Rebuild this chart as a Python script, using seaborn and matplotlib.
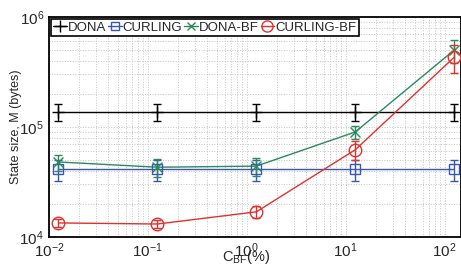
import matplotlib
matplotlib.use("Agg")
import matplotlib.pyplot as plt
import seaborn as sns
import pandas as pd
from matplotlib.ticker import LogLocator, NullFormatter

C_BF = [0.0125, 0.125, 1.25, 12.5, 125]
SERIES = ["DONA", "CURLING", "DONA-BF", "CURLING-BF"]
DONA = [1.37e5, 1.37e5, 1.37e5, 1.37e5, 1.37e5]
DONA_ERR = [0.24e5, 0.24e5, 0.24e5, 0.24e5, 0.24e5]
CURLING = [4.1e4, 4.1e4, 4.1e4, 4.1e4, 4.1e4]
CURLING_ERR = [0.9e4, 0.9e4, 0.9e4, 0.9e4, 0.9e4]
DONA_BF = [4.8e4, 4.3e4, 4.4e4, 9.0e4, 5.0e5]
DONA_BF_ERR = [0.8e4, 0.8e4, 0.8e4, 1.2e4, 1.2e5]
CURLING_BF = [1.34e4, 1.31e4, 1.69e4, 6.2e4, 4.3e5]
CURLING_BF_ERR = [0.1e4, 0.1e4, 0.2e4, 1.2e4, 1.2e5]

COLORS = {"DONA": "black", "CURLING": "#3a56b0", "DONA-BF": "#2a8a5a", "CURLING-BF": "#e0312c"}
MARKERS = {"DONA": "+", "CURLING": "s", "DONA-BF": "x", "CURLING-BF": "o"}
SIZES = {"DONA": 9, "CURLING": 7, "DONA-BF": 7, "CURLING-BF": 9}

values = {"DONA": (DONA, DONA_ERR), "CURLING": (CURLING, CURLING_ERR),
          "DONA-BF": (DONA_BF, DONA_BF_ERR), "CURLING-BF": (CURLING_BF, CURLING_BF_ERR)}

rows = []
for name in SERIES:
    for x, y in zip(C_BF, values[name][0]):
        rows.append({"c_bf": x, "size": y, "series": name})
df = pd.DataFrame(rows)

sns.set_style("white")
plt.rcParams["font.family"] = ["Liberation Sans", "DejaVu Sans"]
plt.rcParams["mathtext.fontset"] = "custom"
plt.rcParams["mathtext.rm"] = "Liberation Sans"
plt.rcParams["mathtext.it"] = "Liberation Sans:italic"

fig = plt.figure(figsize=(4.61, 2.68), dpi=100)
ax = fig.add_axes([0.106, 0.116, 0.894, 0.821])

sns.lineplot(data=df, x="c_bf", y="size", hue="series", hue_order=SERIES,
             palette=COLORS, legend=False, ax=ax, lw=1, zorder=3)

for name in SERIES:
    y, err = values[name]
    ax.errorbar(C_BF, y, yerr=err, fmt="none", ecolor=COLORS[name],
                elinewidth=1, capsize=3, capthick=1, zorder=4)
    face = "none" if name in ("CURLING", "CURLING-BF") else COLORS[name]
    ax.plot(C_BF, y, ls="none", marker=MARKERS[name], ms=SIZES[name],
            mec=COLORS[name], mfc=face, mew=1, zorder=5)

ax.set_xscale("log")
ax.set_yscale("log")
ax.set_xlim(1e-2, 10 ** 2.165)
ax.set_ylim(1e4, 1e6)
ax.xaxis.set_major_locator(LogLocator(base=10, numticks=10))
ax.yaxis.set_major_locator(LogLocator(base=10, numticks=10))
ax.xaxis.set_minor_locator(LogLocator(base=10, subs=range(2, 10), numticks=20))
ax.yaxis.set_minor_locator(LogLocator(base=10, subs=range(2, 10), numticks=20))
ax.xaxis.set_minor_formatter(NullFormatter())
ax.yaxis.set_minor_formatter(NullFormatter())
ax.grid(True, which="both", color="#c4c4c4", ls=":", lw=0.7)
ax.tick_params(which="both", direction="in", labelsize=11, color="black")
ax.tick_params(which="major", length=4)
ax.tick_params(which="minor", length=2)
for s in ax.spines.values():
    s.set_color("black")
    s.set_linewidth(1.3)

ax.set_xlabel(r"C$_{\rm BF}$(%)", fontsize=10.5, va="top")
ax.xaxis.set_label_coords(0.478, -0.052)
ax.set_ylabel("State size, M (bytes)", fontsize=9)
ax.yaxis.set_label_coords(-0.066, 0.5)

handles = [plt.Line2D([], [], color=COLORS[n], lw=1, marker=MARKERS[n],
                      ms=SIZES[n] - 1, mfc="none" if n in ("CURLING", "CURLING-BF") else COLORS[n],
                      mec=COLORS[n]) for n in SERIES]
leg = ax.legend(handles, SERIES, loc="upper left", ncol=4, fontsize=9.5,
                frameon=True, fancybox=False, borderaxespad=0.15, borderpad=0.2,
                handlelength=1.0, handletextpad=0.1, columnspacing=0.15)
leg.get_frame().set_edgecolor("black")
leg.get_frame().set_linewidth(1.2)
leg.get_frame().set_alpha(1)

fig.savefig("out.png", dpi=100)
